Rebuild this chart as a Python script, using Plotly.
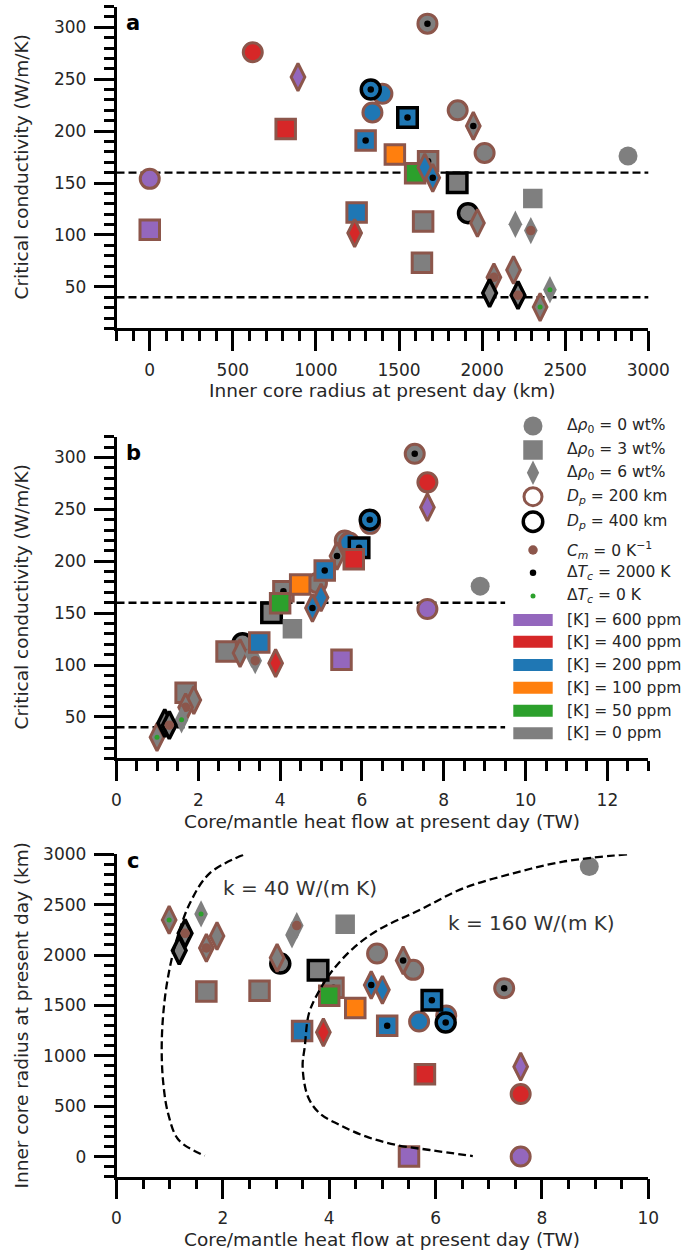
import plotly.graph_objects as go

W, H = 694, 1250

# ---------------------------------------------------------------------------
# Model outcomes (one entry per model run, listed in drawing order)
# density jump at ICB, wt%
drho0 = [0, 0, 0, 0, 0,
         3, 3, 3, 3, 3,
         6, 6, 6, 6, 6, 6, 6, 6, 6, 6,
         3, 3,
         0, 0, 0, 3, 3, 3, 6, 6,
         0, 3, 6,
         0, 3, 6]
# potassium content of the core, ppm
potassium = [0, 0, 0, 0, 0,
             0, 0, 0, 0, 0,
             0, 0, 0, 0, 0, 0, 0, 0, 0, 0,
             50, 100,
             200, 200, 200, 200, 200, 200, 200, 200,
             400, 400, 400,
             600, 600, 600]
# thickness of the basal layer Dp (km); 0 = no layer
dp_km = [0, 200, 200, 200, 400,
         200, 200, 200, 400, 0,
         200, 200, 200, 200, 200, 0, 0, 0, 400, 400,
         200, 200,
         200, 200, 400, 200, 200, 400, 200, 200,
         200, 200, 200,
         200, 200, 200]
# variant of the reference run
variant = ["", "", "", "dTc2000", "",
           "", "", "dTc2000", "", "",
           "", "", "Cm0", "dTc0", "dTc2000", "", "Cm0", "dTc0", "", "Cm0",
           "", "",
           "", "", "dTc2000", "", "dTc2000", "dTc2000", "", "dTc2000",
           "", "", "",
           "", "", ""]
# present-day inner core radius (km)
ric_km = [2878, 2015, 1853, 1671, 1915,
          1645, 1638, 1675, 1850, 2305,
          1972, 2189, 2071, 2349, 1947, 2200, 2293, 2408, 2045, 2216,
          1597, 1475,
          1400, 1340, 1330, 1245, 1299, 1551, 1655, 1703,
          620, 818, 1233,
          0, 0, 892]
# present-day core/mantle heat flow (TW)
qcmb_tw = [8.89, 4.90, 5.58, 7.29, 3.08,
           2.69, 1.69, 4.08, 3.79, 4.30,
           3.02, 1.89, 1.69, 0.99, 5.39, 3.30, 3.39, 1.59, 1.18, 1.29,
           4.00, 4.49,
           6.20, 5.69, 6.19, 3.49, 5.09, 5.93, 5.00, 4.79,
           7.60, 5.80, 3.89,
           7.60, 5.50, 7.60]
# critical thermal conductivity (W/m/K)
kcrit = [176, 179, 220, 303.5, 121,
         113, 73.2, 171, 150.3, 135,
         111.5, 66.2, 59.2, 30.5, 205, 110.3, 104.2, 47.2, 44, 42,
         159.4, 177.5,
         236, 218, 240, 121.6, 191, 213, 165, 155,
         276, 202, 101.8,
         154, 105, 252]

# reference conductivities (W/m/K)
k_ref = [40, 160]

# curves of constant conductivity in the (Q, Ric) plane
k40_q = [2.38, 1.75, 1.38, 1.13, 0.97, 0.88, 0.85, 0.88, 0.97, 1.17, 1.66]
k40_ric = [2993, 2811, 2514, 2150, 1785, 1422, 1058, 727, 429, 164, 8]
k160_q = [9.60, 8.40, 7.46, 6.52, 5.70, 4.92, 4.45, 4.07, 3.82, 3.62, 3.54,
          3.50, 3.60, 3.82, 4.20, 4.70, 5.26, 5.89, 6.70]
k160_ric = [3000, 2927, 2811, 2662, 2447, 2249, 2067, 1852, 1653, 1422, 1090,
            892, 594, 429, 313, 197, 115, 65, 5]

# ---------------------------------------------------------------------------
K_COLORS = {600: "#9467bd", 400: "#d62728", 200: "#1f77b4",
            100: "#ff7f0e", 50: "#2ca02c", 0: "#7f7f7f"}
SYMBOLS = {0: "circle", 3: "square", 6: "diamond-tall"}
SIZES = {0: 19, 3: 19.5, 6: 19.5}
EDGES = {200: ("#8c564b", 3.0), 400: ("#000000", 3.5), 0: ("rgba(0,0,0,0)", 0)}
DOTS = {"dTc2000": ("#000000", 6.5), "Cm0": ("#8c564b", 9.5), "dTc0": ("#2ca02c", 5)}

BROWN = "#8c564b"
TXT = "#262626"
FONT = "DejaVu Sans"
DASH = "8px,4px"


def fx(px):
    return px / W


def fy(py):
    return 1 - py / H


X0, X1 = 116.5, 648.3
PANELS = {
    "a": dict(y_top=6.5, y_bot=328.4),
    "b": dict(y_top=436.7, y_bot=758.4),
    "c": dict(y_top=854.3, y_bot=1176.7),
}

fig = go.Figure()

panel_data = [("x", "y", ric_km, kcrit),
              ("x2", "y2", qcmb_tw, kcrit),
              ("x3", "y3", qcmb_tw, ric_km)]

for xa, ya, xs, ys in panel_data:
    for i in range(len(ric_km)):
        ecol, ewid = EDGES[dp_km[i]]
        fig.add_trace(go.Scatter(
            x=[xs[i]], y=[ys[i]], xaxis=xa, yaxis=ya, mode="markers",
            marker=dict(symbol=SYMBOLS[drho0[i]], size=SIZES[drho0[i]],
                        color=K_COLORS[potassium[i]],
                        line=dict(color=ecol, width=ewid)),
            showlegend=False, hoverinfo="skip"))
        if variant[i]:
            dcol, dsz = DOTS[variant[i]]
            fig.add_trace(go.Scatter(
                x=[xs[i]], y=[ys[i]], xaxis=xa, yaxis=ya, mode="markers",
                marker=dict(symbol="circle", size=dsz, color=dcol,
                            line=dict(width=0)),
                showlegend=False, hoverinfo="skip"))

# constant-conductivity curves in panel c
for cq, cr in [(k40_q, k40_ric), (k160_q, k160_ric)]:
    fig.add_trace(go.Scatter(
        x=cq, y=cr, xaxis="x3", yaxis="y3", mode="lines",
        line=dict(color="black", width=2.3, dash=DASH, shape="spline",
                  smoothing=1.0),
        showlegend=False, hoverinfo="skip"))

# ---------------------------------------------------------------------------
# legend drawn in its own pixel-scaled axes
LX0, LX1, LY0, LY1 = 500, 694, 405, 755
MX, TX = 533, 565
legend_rows = [426, 450, 472.7, 496.7, 521.7, 550, 572.7, 596,
               620, 641.7, 665, 687.7, 710.7, 733.3]

legend_markers = [
    dict(symbol="circle", size=19, color="#7f7f7f", line=dict(width=0)),
    dict(symbol="square", size=19.5, color="#7f7f7f", line=dict(width=0)),
    dict(symbol="diamond-tall", size=17.5, color="#7f7f7f", line=dict(width=0)),
    dict(symbol="circle", size=18, color="white", line=dict(color=BROWN, width=3)),
    dict(symbol="circle", size=19.5, color="white", line=dict(color="black", width=3.5)),
    dict(symbol="circle", size=9.5, color=BROWN, line=dict(width=0)),
    dict(symbol="circle", size=6.5, color="black", line=dict(width=0)),
    dict(symbol="circle", size=5, color="#2ca02c", line=dict(width=0)),
]
legend_texts = [
    "Δ<i>ρ</i><sub>0</sub> = 0 wt%",
    "Δ<i>ρ</i><sub>0</sub> = 3 wt%",
    "Δ<i>ρ</i><sub>0</sub> = 6 wt%",
    "<i>D</i><sub><i>p</i></sub> = 200 km",
    "<i>D</i><sub><i>p</i></sub> = 400 km",
    "<i>C</i><sub><i>m</i></sub> = 0 K<sup>−1</sup>",
    "Δ<i>T</i><sub><i>c</i></sub> = 2000 K",
    "Δ<i>T</i><sub><i>c</i></sub> = 0 K",
]
k_levels = [600, 400, 200, 100, 50, 0]
for kv in k_levels:
    legend_texts.append(f"[K] = {kv} ppm")

for row, mk in zip(legend_rows, legend_markers):
    fig.add_trace(go.Scatter(x=[MX], y=[row], xaxis="x4", yaxis="y4",
                             mode="markers", marker=mk,
                             showlegend=False, hoverinfo="skip"))

shapes = []
for row, kv in zip(legend_rows[8:], k_levels):
    shapes.append(dict(type="rect", xref="x4", yref="y4",
                       x0=513.3, x1=552.7, y0=row - 6, y1=row + 6,
                       fillcolor=K_COLORS[kv], line=dict(width=0), layer="above"))

annotations = []
for row, t in zip(legend_rows, legend_texts):
    annotations.append(dict(xref="x4", yref="y4", x=TX, y=row, text=t,
                            showarrow=False, xanchor="left", yanchor="middle",
                            font=dict(family=FONT, size=15.5, color=TXT)))

# reference conductivities as dashed horizontal lines
for kv in k_ref:
    shapes.append(dict(type="line", xref="x domain", yref="y", x0=0, x1=1,
                       y0=kv, y1=kv, line=dict(color="black", width=2.3,
                                               dash=DASH), layer="below"))
    shapes.append(dict(type="line", xref="x2", yref="y2", x0=0, x1=9.5,
                       y0=kv, y1=kv, line=dict(color="black", width=2.3,
                                               dash=DASH), layer="below"))

# ---------------------------------------------------------------------------
tickfont = dict(family=FONT, size=17, color=TXT)
base_axis = dict(showline=True, linecolor="black", linewidth=2.5,
                 ticks="outside", ticklen=20, tickwidth=2.5, tickcolor="black",
                 showgrid=False, zeroline=False, tickfont=tickfont,
                 ticklabelstandoff=4, fixedrange=True, automargin=False)


def axis(domain, rng, dtick, minor_dtick, anchor):
    d = dict(base_axis)
    d.update(domain=domain, range=rng, tick0=0, dtick=dtick, anchor=anchor,
             minor=dict(ticks="outside", ticklen=10, tickwidth=2.5,
                        tickcolor="black", dtick=minor_dtick, tick0=0,
                        showgrid=False))
    return d


xdom = [fx(X0), fx(X1)]
ya_dom = [fy(PANELS["a"]["y_bot"]), fy(PANELS["a"]["y_top"])]
yb_dom = [fy(PANELS["b"]["y_bot"]), fy(PANELS["b"]["y_top"])]
yc_dom = [fy(PANELS["c"]["y_bot"]), fy(PANELS["c"]["y_top"])]

layout = dict(
    template="none",
    width=W, height=H, autosize=False,
    margin=dict(l=0, r=0, t=0, b=0, pad=0),
    paper_bgcolor="white", plot_bgcolor="rgba(0,0,0,0)",
    font=dict(family=FONT, color=TXT),
    showlegend=False,
    xaxis=axis(xdom, [-200, 3000], 500, 100, "y"),
    yaxis=axis(ya_dom, [10, 320], 50, 10, "x"),
    xaxis2=axis(xdom, [0, 13], 2, 0.5, "y2"),
    yaxis2=axis(yb_dom, [10, 320], 50, 10, "x2"),
    xaxis3=axis(xdom, [0, 10], 2, 0.5, "y3"),
    yaxis3=axis(yc_dom, [-200, 3000], 500, 100, "x3"),
    xaxis4=dict(domain=[fx(LX0), fx(LX1)], range=[LX0, LX1], visible=False,
                anchor="y4", fixedrange=True, automargin=False),
    yaxis4=dict(domain=[fy(LY1), fy(LY0)], range=[LY1, LY0], visible=False,
                anchor="x4", fixedrange=True, automargin=False),
)

# axis titles
xc = (X0 + X1) / 2
titles = [
    ("Inner core radius at present day (km)", xc, 391, 0),
    ("Core/mantle heat flow at present day (TW)", xc, 821, 0),
    ("Core/mantle heat flow at present day (TW)", xc, 1239, 0),
    ("Critical conductivity (W/m/K)", 21, 167.5, -90),
    ("Critical conductivity (W/m/K)", 21, 597.5, -90),
    ("Inner core radius at present day (km)", 21, 1015.5, -90),
]
for t, x, y, ang in titles:
    annotations.append(dict(xref="paper", yref="paper", x=fx(x), y=fy(y),
                            text=t, showarrow=False, textangle=ang,
                            xanchor="center", yanchor="middle",
                            font=dict(family=FONT, size=18.5, color=TXT)))

# panel letters
for t, x, y in [("a", 133.3, 22.7), ("b", 133.3, 452.7), ("c", 132.5, 861)]:
    annotations.append(dict(xref="paper", yref="paper", x=fx(x), y=fy(y),
                            text=f"<b>{t}</b>", showarrow=False,
                            xanchor="center", yanchor="middle",
                            font=dict(family=FONT, size=21, color="black")))

# curve labels in panel c
for t, x, y in [("k = 40 W/(m K)", 300, 888.3), ("k = 160 W/(m K)", 531.7, 923.3)]:
    annotations.append(dict(xref="paper", yref="paper", x=fx(x), y=fy(y),
                            text=t, showarrow=False,
                            xanchor="center", yanchor="middle",
                            font=dict(family=FONT, size=20, color="#333333")))

layout["shapes"] = shapes
layout["annotations"] = annotations
fig.update_layout(**layout)

fig.write_html("out.html")
